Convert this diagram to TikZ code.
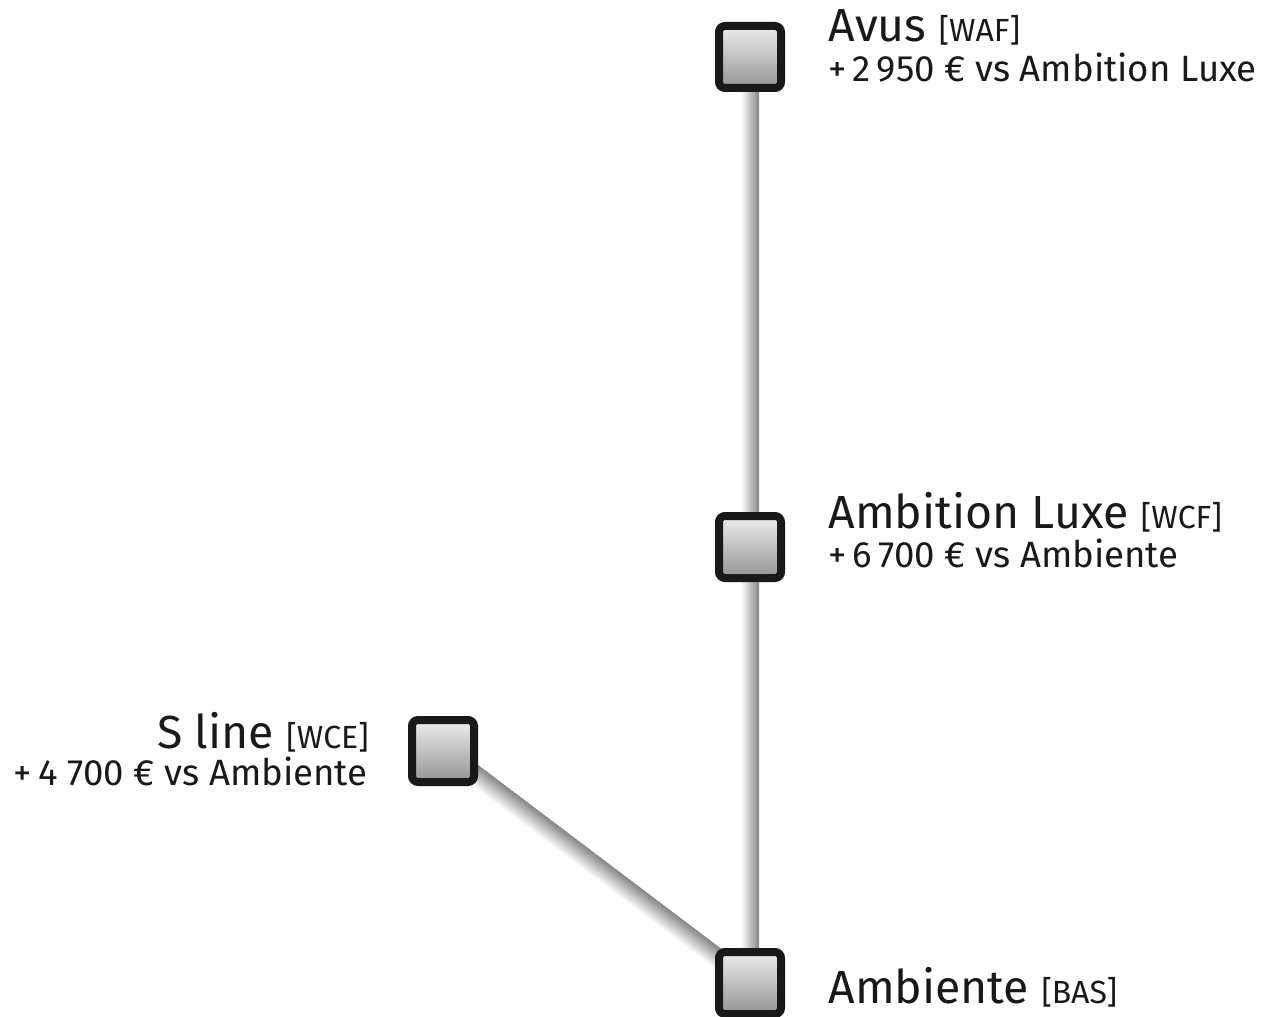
\documentclass[tikz,border=0pt]{standalone}
\usepackage{fontspec}
\setmainfont{Fira Sans}
\usetikzlibrary{calc,backgrounds}

\newcommand\trimlink[3]{%
  \path let \p1=($(#2)-(#1)$), \n1={atan2(\y1,\x1)}, \n2={veclen(\x1,\y1)} in
    \pgfextra{\xdef\linkang{\n1}\xdef\linklen{\n2}};
  \begin{scope}[transform canvas={shift={(#1)},rotate=\linkang}]
    \shade[top color=black!48, bottom color=white] (0pt,#3) rectangle (\linklen,-#3);
  \end{scope}}

\begin{document}
\begin{tikzpicture}[x=0.5pt,y=-0.5pt]
\tikzstyle{trim}=[rectangle, draw=black!90, line width=4pt, rounded corners=3pt,
  minimum size=31pt, inner sep=0pt, top color=black!7, bottom color=black!42]
\tikzstyle{trimname}=[anchor=base west, inner sep=0pt, text depth=0pt, text=black!90,
  font=\fontsize{23.2}{28}\selectfont]
\tikzstyle{trimprice}=[anchor=base west, inner sep=0pt, text=black!90,
  font=\fontsize{18.3}{22}\selectfont]
\newcommand\code[1]{{\fontsize{16}{19}\selectfont[#1]}}
\useasboundingbox (0,0) rectangle (1261,1016);
\node[trim] (avus) at (750,57) {};
\node[trim] (luxe) at (750,547) {};
\node[trim] (sline) at (443,751) {};
\node[trim] (ambiente) at (750,983) {};
\begin{scope}[on background layer]
\trimlink{avus}{ambiente}{4.5pt}
\trimlink{sline}{ambiente}{5pt}
\end{scope}
\node[trimname] (avusname) at (828,42) {Avus \code{WAF}};
\node[trimprice] (avusprice) at (828,82) {+\,2\,950 € vs Ambition Luxe};
\node[trimname] (luxename) at (828,528) {Ambition Luxe \code{WCF}};
\node[trimprice] (luxeprice) at (828,567) {+\,6\,700 € vs Ambiente};
\node[trimname, anchor=base east] (slinename) at (369,748) {S line \code{WCE}};
\node[trimprice, anchor=base east] (slineprice) at (368,785) {+\,4 700 € vs Ambiente};
\node[trimname] (ambientename) at (828,1003) {Ambiente \code{BAS}};
\end{tikzpicture}
\end{document}
